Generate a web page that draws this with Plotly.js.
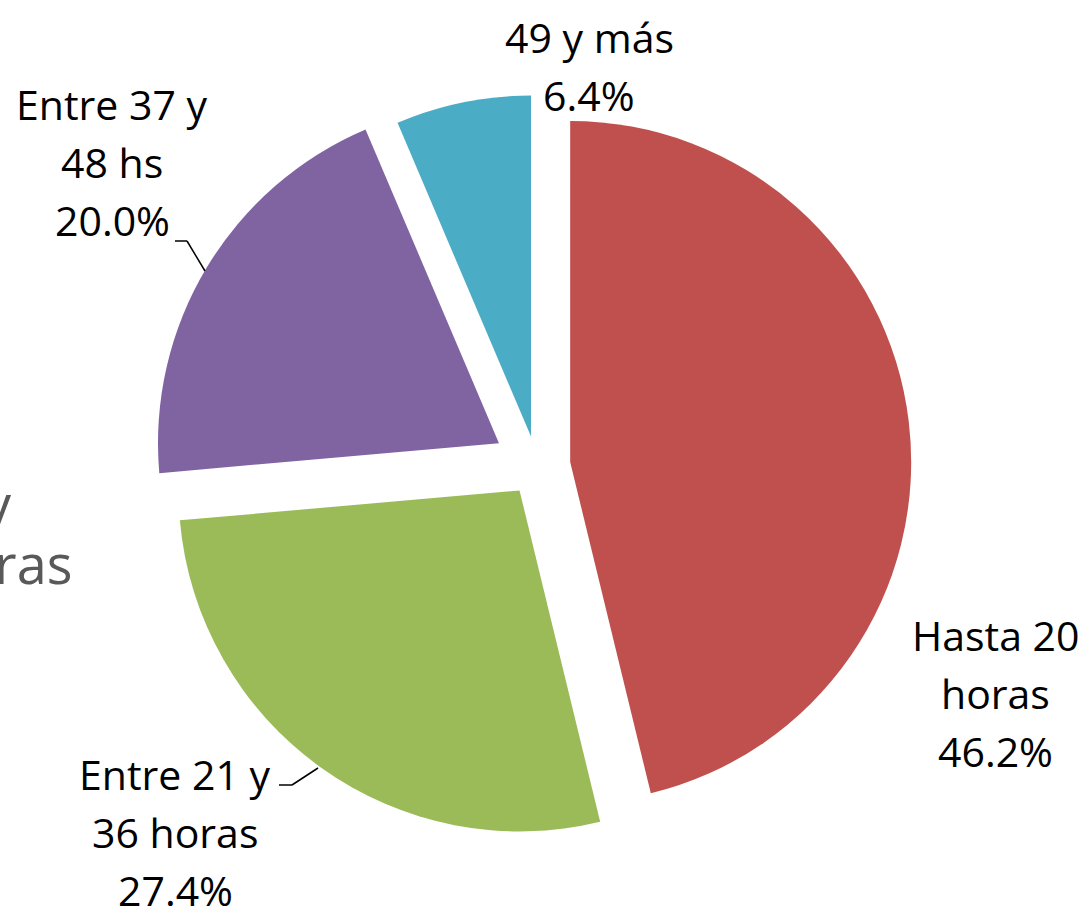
<!DOCTYPE html>
<html><head><meta charset="utf-8">
<script src="https://cdn.plot.ly/plotly-3.0.1.min.js"></script>
<style>html,body{margin:0;padding:0;background:#fff;}#chart{width:1082px;height:906px;}</style>
</head><body><div id="chart"></div>
<script>
// ---- data ----
const categories = ["Hasta 20 horas", "Entre 21 y 36 horas", "Entre 37 y 48 hs", "49 y más"];
const values = [46.2, 27.4, 20.0, 6.4];
const labelLines = [["Hasta 20", "horas"], ["Entre 21 y", "36 horas"], ["Entre 37 y", "48 hs"], ["49 y más"]];
const colors = ["#C0504D", "#9BBB59", "#8064A2", "#4BACC6"];
const pulls = [0.098, 0.088, 0.13, 0.088];

// ---- layout helpers (pixel -> paper) ----
const W = 1082, H = 906;
const px = x => x / W;
const py = y => 1 - y / H;

const cx = 537, cy = 466, r = 341;
const half = r * (1 + Math.max(...pulls));

const FONT = "Open Sans, Noto Sans, sans-serif";
const FS = 41;
const LINE = 58;
const labelPos = [{x: 995, y: 635}, {x: 175, y: 774}, {x: 112, y: 104}, {x: 589, y: 37}];

const annotations = [];
categories.forEach((c, i) => {
  const lines = labelLines[i].concat([values[i].toFixed(1) + "%"]);
  lines.forEach((t, k) => {
    annotations.push({
      xref: "paper", yref: "paper", x: px(labelPos[i].x), y: py(labelPos[i].y + k * LINE),
      xanchor: "center", yanchor: "middle", text: t, showarrow: false,
      font: {family: FONT, size: FS, color: "#000000"}
    });
  });
});
// partially visible background slide text at the left edge
annotations.push({xref: "paper", yref: "paper", x: px(14), y: py(503), xanchor: "right", yanchor: "middle",
  text: "y", showarrow: false, font: {family: FONT, size: 54, color: "#595959"}});
annotations.push({xref: "paper", yref: "paper", x: px(74), y: py(563), xanchor: "right", yanchor: "middle",
  text: "horas", showarrow: false, font: {family: FONT, size: 54, color: "#595959"}});

const leader = (pts) => pts.slice(1).map((p, k) => ({
  type: "line", xref: "paper", yref: "paper",
  x0: px(pts[k][0]), y0: py(pts[k][1]), x1: px(p[0]), y1: py(p[1]),
  line: {color: "#000000", width: 1.5}
}));
const shapes = [].concat(
  leader([[175, 241], [187, 241], [205, 271]]),
  leader([[279, 785], [292, 785], [318, 768]])
);

const trace = {
  type: "pie",
  labels: categories,
  values: values,
  sort: false,
  direction: "clockwise",
  rotation: 0,
  pull: pulls,
  marker: {colors: colors, line: {width: 0}},
  textinfo: "none",
  hoverinfo: "label+percent",
  showlegend: false,
  domain: {x: [px(cx - half), px(cx + half)], y: [py(cy + half), py(cy - half)]}
};

const layout = {
  width: W, height: H,
  margin: {l: 0, r: 0, t: 0, b: 0},
  paper_bgcolor: "#ffffff",
  showlegend: false,
  annotations: annotations,
  shapes: shapes
};

Plotly.newPlot("chart", [trace], layout, {displayModeBar: false, staticPlot: true});
</script>
</body></html>
